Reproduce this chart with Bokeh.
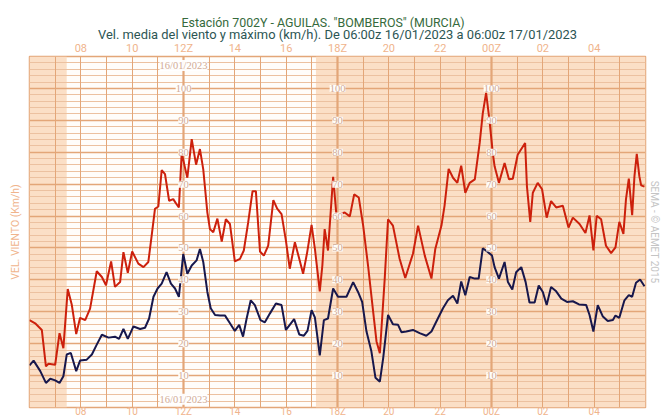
from bokeh.plotting import figure
from bokeh.models import (ColumnDataSource, LinearAxis, FixedTicker, Grid, Title,
                          BoxAnnotation, LabelSet, Range1d)
from bokeh.embed import file_html
from bokeh.resources import INLINE

# ---- data (hours after 06:00z 16/01/2023) ----
red_hours = [0.0, 0.22, 0.48, 0.64, 0.74, 1.0, 1.17, 1.32, 1.49, 1.65, 1.82, 1.97, 2.17, 2.36,
             2.62, 2.82, 2.98, 3.18, 3.33, 3.53, 3.66, 3.83, 4.0, 4.24, 4.44, 4.63, 4.76, 4.89,
             5.02, 5.15, 5.28, 5.44, 5.6, 5.73, 5.82, 5.93, 6.06, 6.15, 6.32, 6.49, 6.64, 6.77,
             6.93, 7.03, 7.16, 7.32, 7.49, 7.65, 7.81, 8.0, 8.2, 8.35, 8.52, 8.69, 8.82, 8.98,
             9.13, 9.3, 9.5, 9.65, 9.82, 9.99, 10.14, 10.34, 10.51, 10.66, 10.82, 10.99, 11.12,
             11.31, 11.41, 11.5, 11.63, 11.83, 11.96, 12.09, 12.28, 12.48, 12.65, 12.83, 13.0,
             13.19, 13.39, 13.52, 13.65, 13.84, 13.97, 14.16, 14.42, 14.64, 14.94, 15.14, 15.4,
             15.66, 15.81, 16.05, 16.17, 16.33, 16.5, 16.67, 16.82, 16.98, 17.15, 17.35, 17.54,
             17.66, 17.79, 17.92, 18.05, 18.12, 18.29, 18.51, 18.68, 18.83, 19.02, 19.31, 19.38,
             19.51, 19.61, 19.8, 19.97, 20.15, 20.32, 20.52, 20.78, 21.0, 21.17, 21.43, 21.66,
             21.82, 21.97, 22.1, 22.27, 22.46, 22.66, 22.83, 22.98, 23.14, 23.24, 23.35, 23.48,
             23.57, 23.66, 23.76, 23.83, 23.96]
red_values = [27.4, 26.4, 24.3, 12.9, 13.7, 13.4, 23.3, 18.6, 37.1, 32.1, 23.0, 28.1, 27.4, 31.0,
              42.7, 40.9, 38.3, 45.8, 37.8, 39.3, 48.7, 42.2, 48.9, 45.1, 44.0, 45.6, 53.9, 62.3,
              63.0, 74.4, 73.1, 64.8, 65.3, 63.7, 62.7, 79.8, 75.1, 72.0, 84.1, 76.1, 81.0, 74.6,
              61.1, 55.9, 54.9, 59.2, 52.0, 59.0, 57.5, 45.8, 46.6, 49.2, 58.0, 67.8, 67.8, 48.9,
              47.6, 50.7, 65.0, 62.3, 60.6, 52.3, 43.5, 51.8, 46.6, 41.9, 48.7, 57.2, 49.7,
              36.4, 44.5, 55.9, 49.2, 72.3, 60.1, 60.6, 61.1, 59.9, 66.8, 65.8, 57.0,
              44.5, 30.0, 20.7, 17.0, 40.4, 59.0, 57.0, 46.6, 40.6, 48.2, 57.0, 47.6,
              40.4, 49.7, 57.0, 63.2, 74.8, 72.0, 70.4, 75.8, 67.3, 70.4, 71.5, 82.9,
              92.2, 98.6, 90.1, 79.8, 75.6, 70.4, 76.6, 71.5, 71.7, 79.2, 82.9, 69.4,
              58.2, 67.3, 70.4, 68.4, 59.5, 64.7, 62.7, 63.2, 56.4, 59.5, 57.5, 54.7,
              60.2, 49.2, 60.1, 59.0, 50.7, 48.4, 50.2, 58.2, 54.4, 65.3, 71.7, 60.3,
              72.5, 79.5, 72.5, 69.6, 69.2]

blue_hours = [0.0, 0.16, 0.42, 0.64, 0.81, 1.0, 1.17, 1.32, 1.45, 1.61, 1.82, 1.97, 2.23, 2.43,
              2.62, 2.82, 3.08, 3.33, 3.49, 3.66, 3.83, 4.05, 4.31, 4.5, 4.66, 4.83, 4.99, 5.15,
              5.34, 5.51, 5.67, 5.82, 5.99, 6.15, 6.32, 6.51, 6.64, 6.77, 6.93, 7.06, 7.23, 7.42,
              7.62, 7.81, 8.0, 8.17, 8.32, 8.46, 8.62, 8.78, 9.0, 9.17, 9.37, 9.6, 9.82, 9.99,
              10.14, 10.31, 10.51, 10.69, 10.83, 10.99, 11.12, 11.31, 11.47, 11.63, 11.83, 12.02,
              12.35, 12.61, 12.8, 12.96, 13.13, 13.32, 13.48, 13.65, 13.78, 13.97, 14.16, 14.36,
              14.49, 14.68, 14.94, 15.2, 15.46, 15.66, 15.91, 16.11, 16.3, 16.5, 16.67, 16.82,
              16.98, 17.15, 17.35, 17.5, 17.66, 17.83, 18.02, 18.12, 18.29, 18.51, 18.64, 18.81,
              18.96, 19.16, 19.33, 19.48, 19.68, 19.84, 20.0, 20.15, 20.32, 20.52, 20.72, 20.94,
              21.17, 21.41, 21.69, 21.82, 21.97, 22.14, 22.34, 22.53, 22.73, 22.83, 22.98, 23.18,
              23.35, 23.48, 23.63, 23.79, 23.96]
blue_values = [13.2, 14.7, 11.4, 7.7, 9.0, 8.5, 7.7, 9.8, 16.6, 17.1, 11.4, 14.7, 15.0, 16.6,
               19.7, 22.8, 21.9, 22.2, 21.5, 24.6, 21.5, 25.4, 24.6, 25.0, 27.9, 34.7, 37.3, 38.8,
               42.4, 38.8, 37.3, 34.7, 48.1, 41.9, 44.5, 46.1, 49.7, 45.6, 36.2, 31.1, 29.0, 28.8,
               28.8, 26.4, 24.0, 25.9, 22.2, 27.9, 33.6, 32.1, 27.4, 26.7, 29.5, 32.6, 32.1, 24.3,
               25.9, 27.7, 22.9, 22.5, 24.0, 30.5, 28.2, 16.3, 27.4, 27.9, 37.3, 34.7,
               34.7, 39.3, 36.2, 33.1, 23.8, 17.6, 9.3, 8.1, 15.5, 29.0, 26.1, 25.9,
               23.6, 23.8, 24.3, 23.3, 22.5, 23.8, 27.9, 31.1, 33.6, 35.0, 32.6, 39.5,
               35.2, 40.9, 40.4, 40.4, 49.9, 48.9, 47.6, 44.0, 40.4, 45.6, 39.3, 37.0,
               42.4, 44.0, 39.3, 32.9, 32.9, 38.2, 36.2, 32.1, 37.8, 36.4, 34.1, 33.1,
               33.3, 32.3, 32.1, 29.0, 23.8, 32.1, 28.5, 27.1, 27.4, 28.8, 28.1, 33.6,
               35.2, 34.7, 39.1, 40.1, 38.0]

hour_ticks = [2, 4, 6, 8, 10, 12, 14, 16, 18, 20, 22]
hour_labels = ["08", "10", "12Z", "14", "16", "18Z", "20", "22", "00Z", "02", "04"]
night_start = [0.0, 11.16]
night_end = [1.45, 24.0]
value_label_hours = [6, 12, 18]
value_label_values = [10, 20, 30, 40, 50, 60, 70, 80, 90, 100]
date_text = "16/01/2023"
title_main = 'Estación 7002Y - AGUILAS. "BOMBEROS" (MURCIA)'
title_sub = "Vel. media del viento y máximo (km/h). De 06:00z 16/01/2023 a 06:00z 17/01/2023"
y_title = "VEL. VIENTO (Km/h)"
credit = "SEMA - © AEMET 2015"

PEACH = "#fbdfc6"
GRID_MINOR = "#ecc1a0"
GRID_MAJOR = "#e3a678"
LABEL_COL = "#f0b48c"
FONT = "Roboto"

p = figure(width=662, height=419, x_range=Range1d(0, 24), y_range=Range1d(0, 110),
           x_axis_type=None, y_axis_type=None, toolbar_location=None, output_backend="svg",
           min_border_left=29, min_border_right=16, min_border_top=56, min_border_bottom=0,
           background_fill_color="#fffdfa", border_fill_color="white",
           outline_line_color=GRID_MAJOR, outline_line_width=1.5)

for s, e in zip(night_start, night_end):
    p.add_layout(BoxAnnotation(left=s, right=e, fill_color=PEACH, fill_alpha=1.0,
                               line_color=None, level="underlay"))

p.add_layout(Grid(dimension=1, ticker=FixedTicker(ticks=list(range(0, 111, 2))),
                  grid_line_color=GRID_MINOR, grid_line_width=1))
p.add_layout(Grid(dimension=1, ticker=FixedTicker(ticks=list(range(0, 111, 10))),
                  grid_line_color=GRID_MAJOR, grid_line_width=1.5))
p.add_layout(Grid(dimension=0, ticker=FixedTicker(ticks=list(range(0, 25))),
                  grid_line_color=GRID_MAJOR, grid_line_width=1))
p.add_layout(Grid(dimension=0, ticker=FixedTicker(ticks=value_label_hours),
                  grid_line_color=GRID_MAJOR, grid_line_width=2.2))


def hour_axis(size, standoff):
    return LinearAxis(ticker=FixedTicker(ticks=hour_ticks),
                      major_label_overrides={t: l for t, l in zip(hour_ticks, hour_labels)},
                      axis_line_color=None, major_tick_line_color=None,
                      minor_tick_line_color=None, major_tick_out=0, minor_tick_out=0,
                      major_label_text_color=LABEL_COL, major_label_text_font=FONT,
                      major_label_text_font_size=size, major_label_standoff=standoff)


p.add_layout(hour_axis("11px", 2), "above")
p.add_layout(hour_axis("10px", -2), "below")

p.add_layout(Title(text=title_sub, align="center", text_color="#2c5553", text_font=FONT,
                   text_font_size="12.9px", text_font_style="normal", standoff=-6,
                   text_line_height=1.0), "above")
p.add_layout(Title(text=title_main, align="left", text_color="#366a3c", text_font=FONT,
                   text_font_size="12.4px", text_font_style="normal", standoff=-4,
                   text_line_height=1.0, offset=152), "above")


def side_axis(label, standoff, size):
    return LinearAxis(ticker=FixedTicker(ticks=[]), axis_label=label,
                      axis_line_color=None, major_tick_line_color=None,
                      minor_tick_line_color=None, major_tick_out=0, minor_tick_out=0,
                      major_label_text_font_size="0px",
                      axis_label_standoff=standoff, axis_label_text_font=FONT,
                      axis_label_text_font_size=size, axis_label_text_font_style="normal",
                      axis_label_text_color=LABEL_COL)


p.add_layout(side_axis(y_title, 8, "10.5px"), "left")
right_ax = side_axis(credit, 3, "10px")
right_ax.axis_label_text_color = "#c4c4c4"
p.add_layout(right_ax, "right")

p.line(red_hours, red_values, line_color="#cc200c", line_width=2)
p.line(blue_hours, blue_values, line_color="#17174c", line_width=2)

# in-plot value labels
lx, ly, lt = [], [], []
for h in value_label_hours:
    for v in value_label_values:
        lx.append(h); ly.append(v); lt.append(str(v))
lx += [value_label_hours[0], value_label_hours[0]]
ly += [107.2, 2.6]
lt += [date_text, date_text]
p.add_layout(LabelSet(x="x", y="y", text="t", source=ColumnDataSource(dict(x=lx, y=ly, t=lt)),
                      text_align="center", text_baseline="middle", text_font=FONT,
                      text_font_size="10.5px", text_color="#d2ab95",
                      background_fill_color="white", background_fill_alpha=0.95))

open("out.html", "w").write(file_html(p, INLINE))
